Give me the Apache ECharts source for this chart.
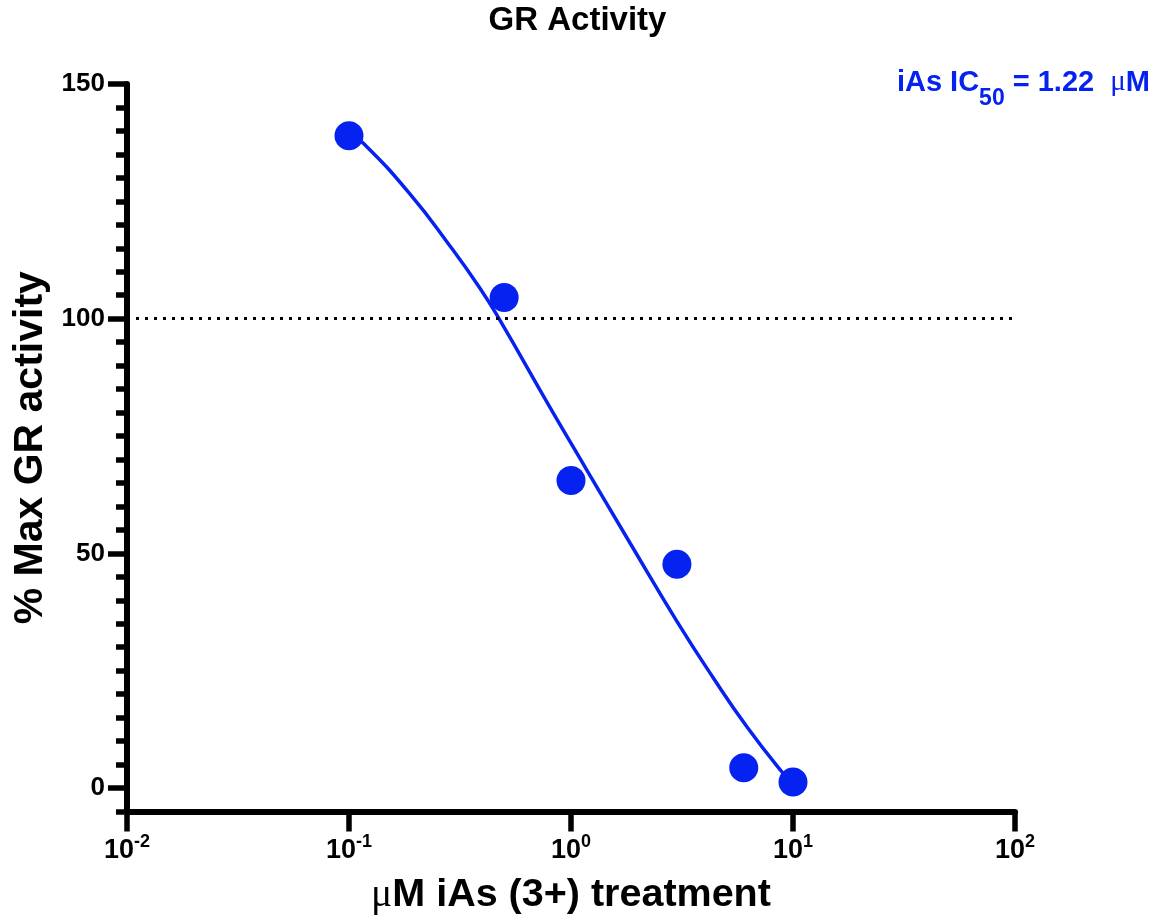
<!DOCTYPE html>
<html>
<head>
<meta charset="utf-8">
<title>GR Activity</title>
<script src="https://cdn.jsdelivr.net/npm/echarts@6/dist/echarts.min.js"></script>
<style>
  html, body { margin: 0; padding: 0; background: #fff; }
  #chart { width: 1155px; height: 923px; }
</style>
</head>
<body>
<div id="chart"></div>
<script>
// measured points
const concentrations = [0.1, 0.5, 1, 3, 6, 10]
const activity = [139, 104.5, 65.5, 47.7, 4.3, 1.3]

// fitted curve
const fitX = [0.1, 0.116, 0.188, 0.285, 0.389, 0.474, 0.804, 1.18, 1.85, 3.0, 4.37, 6.21, 9.0, 10]
const fitY = [139.5, 137.4, 126.6, 115.5, 106.5, 100, 81.1, 67.7, 52.1, 35.5, 23.5, 13.0, 3.2, 1.0]

// axes
const xTicks = [0.01, 0.1, 1, 10, 100]
const xTickExponents = ['-2', '-1', '0', '1', '2']
const yTicks = [0, 50, 100, 150]
const referenceLevel = 100

const BLUE = '#0522F0'
const FONT = '"Liberation Sans", Arial, Helvetica, sans-serif'
const SERIF = '"Liberation Serif", "DejaVu Serif", serif'

const chart = echarts.init(document.getElementById('chart'))

const option = {
  animation: false,
  title: {
    text: 'GR Activity',
    left: 'center',
    top: 4,
    padding: 0,
    textStyle: { fontFamily: FONT, fontWeight: 'bold', fontSize: 33, color: '#000' }
  },
  grid: { left: 127, right: 140, top: 84, bottom: 111.5 },
  xAxis: {
    type: 'log',
    logBase: 10,
    min: 0.01,
    max: 100,
    name: '{mu|μ}M iAs (3+) treatment',
    nameLocation: 'middle',
    nameGap: 64,
    nameTextStyle: {
      fontFamily: FONT, fontWeight: 'bold', fontSize: 39.5, color: '#000',
      rich: {
        mu: { fontFamily: SERIF, fontWeight: 'normal', fontSize: 39.5, color: '#000' }
      }
    },
    axisLine: { onZero: false, lineStyle: { color: '#000', width: 6 } },
    axisTick: { customValues: xTicks, length: 20, lineStyle: { color: '#000', width: 5.5 } },
    axisLabel: {
      customValues: xTicks,
      margin: 23,
      formatter: (v) => {
        const i = xTicks.findIndex(t => Math.abs(Math.log10(t) - Math.log10(v)) < 1e-6)
        return '{b|10}{s|' + (i >= 0 ? xTickExponents[i] : '') + '}'
      },
      rich: {
        b: { fontFamily: FONT, fontWeight: 'bold', fontSize: 27, lineHeight: 30, color: '#000', verticalAlign: 'bottom' },
        s: { fontFamily: FONT, fontWeight: 'bold', fontSize: 18, lineHeight: 18, color: '#000', verticalAlign: 'bottom', padding: [0, 0, 13, 0] }
      }
    },
    splitLine: { show: false },
    minorTick: { show: false }
  },
  yAxis: [
    {
      type: 'value',
      min: -5,
      max: 150,
      name: '% Max GR activity',
      nameLocation: 'middle',
      nameRotate: 90,
      nameGap: 72,
      nameTextStyle: { fontFamily: FONT, fontWeight: 'bold', fontSize: 41, color: '#000' },
      axisLine: { show: true, onZero: false, lineStyle: { color: '#000', width: 6 } },
      axisTick: { show: true, customValues: yTicks, length: 19, lineStyle: { color: '#000', width: 5.5 } },
      axisLabel: {
        customValues: yTicks,
        margin: 22,
        fontFamily: FONT, fontWeight: 'bold', fontSize: 26, color: '#000'
      },
      splitLine: { show: false }
    },
    {
      // minor ticks every 5
      type: 'value',
      min: -5,
      max: 150,
      interval: 5,
      position: 'left',
      axisLine: { show: false, onZero: false },
      axisTick: { show: true, length: 11, lineStyle: { color: '#000', width: 5.5 } },
      axisLabel: { show: false },
      splitLine: { show: false }
    }
  ],
  graphic: [
    {
      type: 'text',
      right: 5,
      top: 68,
      style: {
        text: '{a|iAs IC}{sub|50}{a| = 1.22  }{mu|μ}{a|M}',
        rich: {
          a: { fontFamily: FONT, fontWeight: 'bold', fontSize: 29, lineHeight: 32, fill: BLUE, verticalAlign: 'top' },
          sub: { fontFamily: FONT, fontWeight: 'bold', fontSize: 23, lineHeight: 23, fill: BLUE, verticalAlign: 'top', padding: [19, 0, 0, 0] },
          mu: { fontFamily: SERIF, fontWeight: 'normal', fontSize: 29, lineHeight: 32, fill: BLUE, verticalAlign: 'top' }
        }
      }
    }
  ],
  series: [
    {
      name: 'fit',
      type: 'line',
      data: fitX.map((x, i) => [x, fitY[i]]),
      showSymbol: false,
      symbol: 'none',
      smooth: 0.5,
      lineStyle: { color: BLUE, width: 3.5 },
      z: 2,
      markLine: {
        silent: true,
        symbol: 'none',
        label: { show: false },
        lineStyle: { color: '#000', width: 3, type: [3, 6] },
        data: [{ yAxis: referenceLevel }]
      }
    },
    {
      name: 'iAs',
      type: 'scatter',
      data: concentrations.map((x, i) => [x, activity[i]]),
      symbol: 'circle',
      symbolSize: 29,
      itemStyle: { color: BLUE, opacity: 1 },
      z: 3
    }
  ]
}

chart.setOption(option)
</script>
</body>
</html>
